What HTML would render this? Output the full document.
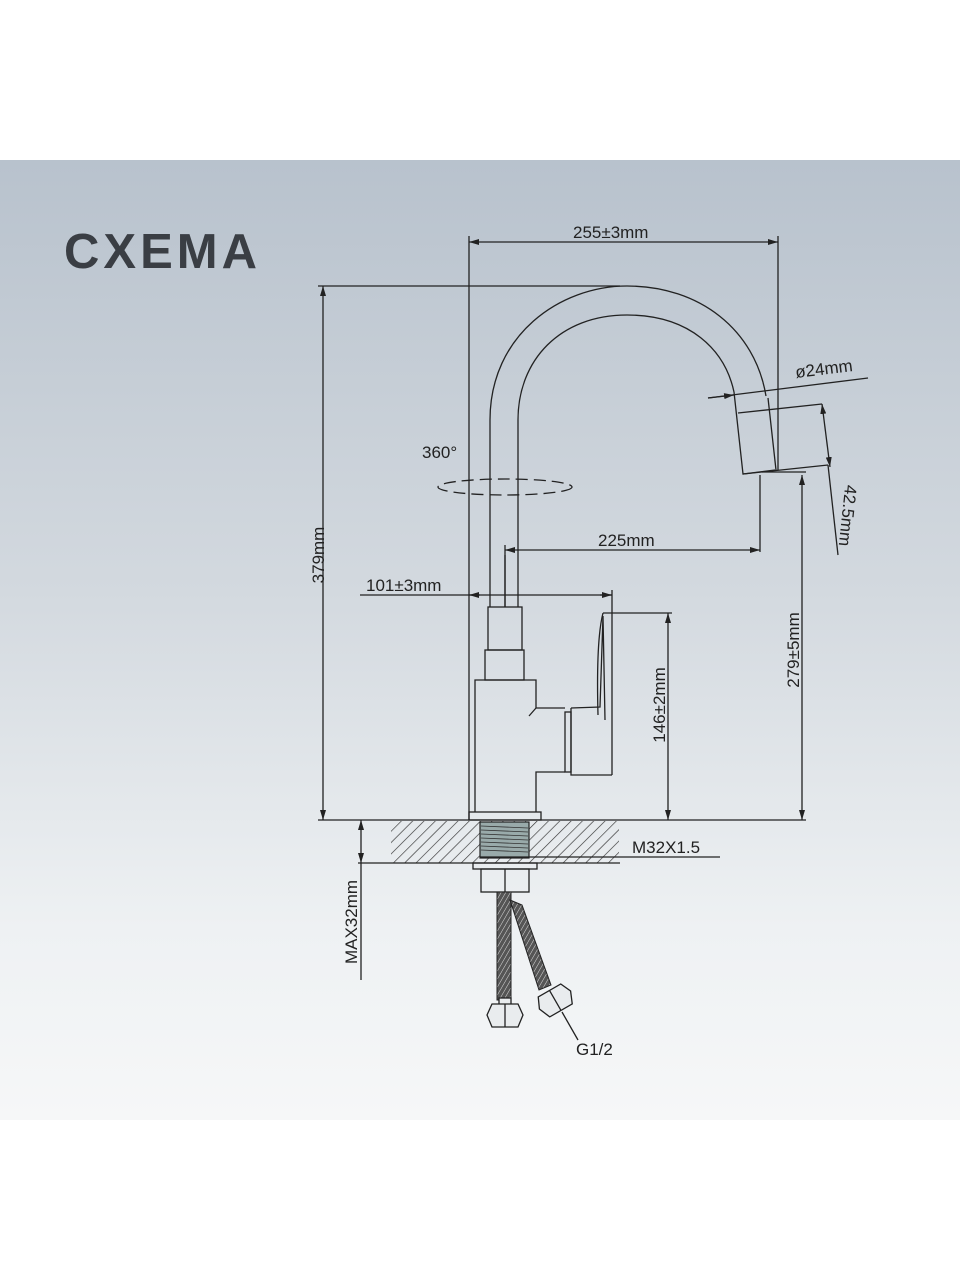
<!DOCTYPE html>
<html><head><meta charset="utf-8"><style>
html,body{margin:0;padding:0;width:960px;height:1280px;background:#fff;overflow:hidden}
.band{position:absolute;left:0;top:160px;width:960px;height:960px;background:linear-gradient(#b8c2cd 0%,#d3d9df 45%,#eef1f3 80%,#f6f7f8 100%)}
svg{position:absolute;left:0;top:0}
</style></head><body>
<div class="band"></div>
<svg width="960" height="1280" viewBox="0 0 960 1280" font-family="Liberation Sans, DejaVu Sans, sans-serif">
<defs>
<marker id="a" viewBox="0 0 10 6" refX="10" refY="3" markerWidth="10" markerHeight="6" orient="auto-start-reverse" markerUnits="userSpaceOnUse"><path d="M0,0 L10,3 L0,6 z" fill="#222"/></marker>
<pattern id="h" width="8" height="8" patternUnits="userSpaceOnUse" patternTransform="rotate(45)"><line x1="0" y1="0" x2="0" y2="8" stroke="#333" stroke-width="1.3"/></pattern>
<pattern id="br" width="4" height="4" patternUnits="userSpaceOnUse" patternTransform="rotate(30)"><rect width="4" height="4" fill="#555"/><line x1="0" y1="0" x2="0" y2="4" stroke="#ddd" stroke-width="1"/></pattern>
</defs>
<text x="64" y="268" font-size="49" font-weight="bold" fill="#3a3e44" letter-spacing="4">CXEMA</text>
<g stroke="#222" stroke-width="1.3" fill="none">
<line x1="469" y1="236" x2="469" y2="820"/>
<line x1="778" y1="236" x2="778" y2="470"/>
<line x1="469" y1="242" x2="778" y2="242" marker-start="url(#a)" marker-end="url(#a)"/>
<line x1="318" y1="286" x2="620" y2="286"/>
<line x1="323" y1="286" x2="323" y2="820" marker-start="url(#a)" marker-end="url(#a)"/>
<path d="M490,607 L490,420 C490,335 560,286 627,286 C700,286 755,330 766,396"/>
<path d="M518,607 L518,420 C518,360 560,315 627,315 C690,315 725,350 734,392"/>
<line x1="505" y1="555" x2="505" y2="607"/>
<path d="M734,392 L743,474 L775,470"/>
<path d="M738,413 L822,404"/>
<path d="M743,474 L828,465"/>
<line x1="768" y1="398" x2="776" y2="470"/>
<line x1="762" y1="472" x2="806" y2="472"/>
<line x1="708" y1="398" x2="868" y2="378"/>
<line x1="708" y1="398" x2="734" y2="395" marker-end="url(#a)"/>
<line x1="822" y1="404" x2="830" y2="467" marker-start="url(#a)" marker-end="url(#a)"/>
<line x1="828" y1="465" x2="838" y2="555"/>
<ellipse cx="505" cy="487" rx="67" ry="8" stroke-dasharray="12,6"/>
<line x1="505" y1="545" x2="505" y2="607"/>
<line x1="760" y1="475" x2="760" y2="552"/>
<line x1="505" y1="550" x2="760" y2="550" marker-start="url(#a)" marker-end="url(#a)"/>
<line x1="802" y1="475" x2="802" y2="820" marker-start="url(#a)" marker-end="url(#a)"/>
<line x1="360" y1="595" x2="612" y2="595"/>
<line x1="480" y1="595" x2="469" y2="595" marker-end="url(#a)"/>
<line x1="600" y1="595" x2="612" y2="595" marker-end="url(#a)"/>
<line x1="612" y1="590" x2="612" y2="775"/>
<line x1="603" y1="613" x2="672" y2="613"/>
<line x1="668" y1="613" x2="668" y2="820" marker-start="url(#a)" marker-end="url(#a)"/>
<rect x="488" y="607" width="34" height="43"/>
<rect x="485" y="650" width="39" height="30"/>
<path d="M475,812 L475,680 L536,680 L536,708 L565,708 M565,772 L536,772 L536,812"/>
<path d="M529,716 L536,708"/>
<rect x="565" y="712" width="6" height="60"/>
<path d="M571,708 L600,707 L603,616 L605,720 M571,708 L571,775 L612,775"/>
<path d="M603,613 Q596,640 598,715"/>
<rect x="469" y="812" width="72" height="8"/>
<line x1="318" y1="820" x2="806" y2="820"/>
</g>
<rect x="391" y="821" width="228" height="42" fill="url(#h)"/>
<rect x="480" y="822" width="49" height="36" fill="#9aa" stroke="#222" stroke-width="1.2"/>
<g stroke="#333" stroke-width="0.8">
<line x1="481" y1="826" x2="528" y2="828"/><line x1="481" y1="830" x2="528" y2="832"/><line x1="481" y1="834" x2="528" y2="836"/><line x1="481" y1="838" x2="528" y2="840"/><line x1="481" y1="842" x2="528" y2="844"/><line x1="481" y1="846" x2="528" y2="848"/><line x1="481" y1="850" x2="528" y2="852"/>
</g>
<g stroke="#222" stroke-width="1.3" fill="none">
<line x1="480" y1="857" x2="720" y2="857"/>
<line x1="358" y1="863" x2="620" y2="863"/>
<line x1="361" y1="820" x2="361" y2="863" marker-start="url(#a)" marker-end="url(#a)"/>
<line x1="361" y1="863" x2="361" y2="980"/>
<rect x="473" y="863" width="64" height="6"/>
<rect x="481" y="869" width="48" height="23"/>
<line x1="505" y1="869" x2="505" y2="892"/>
</g>
<rect x="497" y="892" width="14" height="108" fill="url(#br)" stroke="#222"/>
<polygon points="510,900 522,905 551,985 539,990" fill="url(#br)" stroke="#222"/>
<g stroke="#222" stroke-width="1.3" fill="#e9ecee">
<rect x="499" y="998" width="12" height="8"/>
<path d="M492,1004 L518,1004 L523,1015 L518,1027 L492,1027 L487,1015 Z"/>
<line x1="505" y1="1004" x2="505" y2="1027"/>
<g transform="rotate(-30 555 1000)"><path d="M542,989 L568,989 L573,1000 L568,1012 L542,1012 L537,1000 Z"/><line x1="555" y1="989" x2="555" y2="1012"/></g>
<line x1="562" y1="1012" x2="578" y2="1040" fill="none"/>
</g>
<g fill="#222" font-size="17">
<text x="573" y="238">255±3mm</text>
<text x="796" y="378" transform="rotate(-7 796 378)">ø24mm</text>
<text x="422" y="458">360°</text>
<text x="598" y="546">225mm</text>
<text x="366" y="591">101±3mm</text>
<text x="632" y="853">M32X1.5</text>
<text x="576" y="1055">G1/2</text>
<text transform="translate(324,555) rotate(-90)" text-anchor="middle">379mm</text>
<text transform="translate(799,650) rotate(-90)" text-anchor="middle">279±5mm</text>
<text transform="translate(665,705) rotate(-90)" text-anchor="middle">146±2mm</text>
<text transform="translate(357,922) rotate(-90)" text-anchor="middle">MAX32mm</text>
<text transform="translate(842,515) rotate(96)" text-anchor="middle">42.5mm</text>
</g>
</svg>
</body></html>
